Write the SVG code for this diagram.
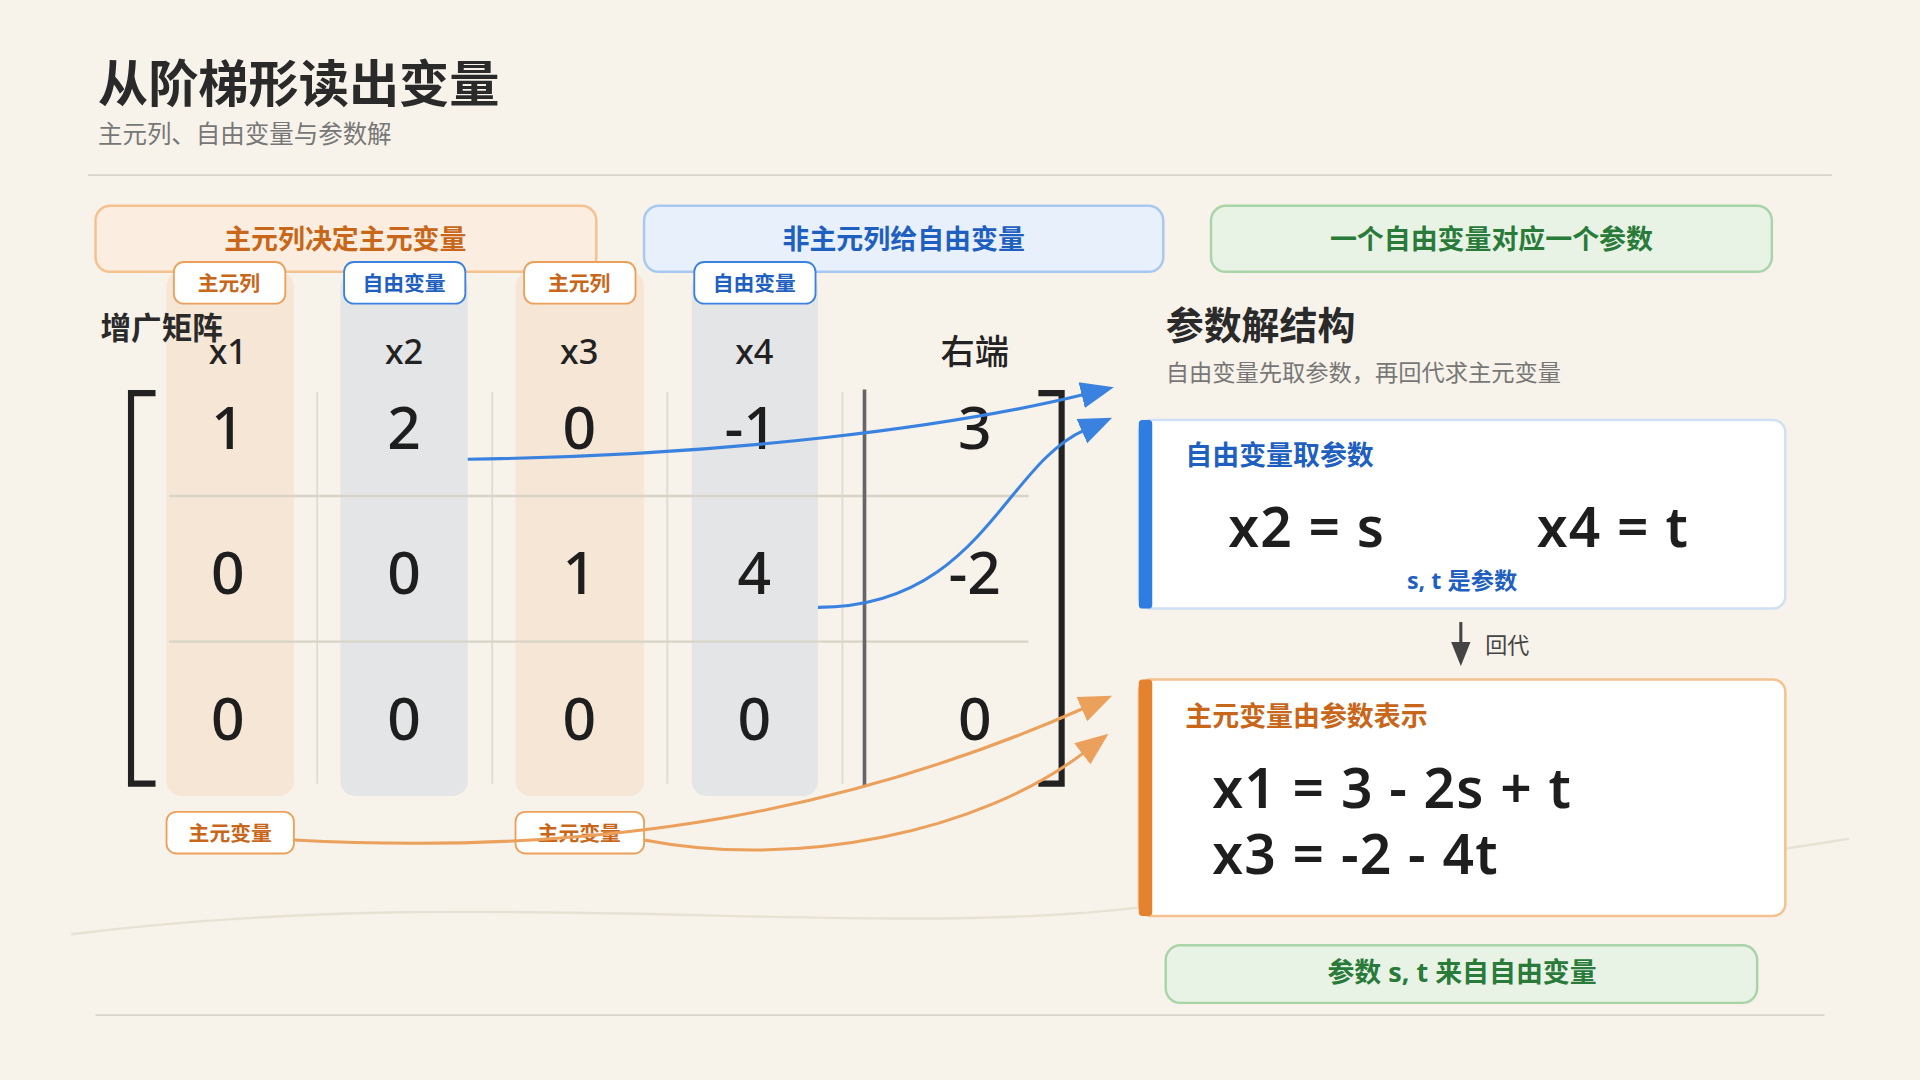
<svg xmlns="http://www.w3.org/2000/svg" width="1920" height="1080" viewBox="0 0 1920 1080">
<defs>
<style>
text{font-family:"Noto Sans","Noto Sans CJK SC",sans-serif}
.b{font-weight:700}
.hd{font-size:22px;font-weight:700;text-anchor:middle}
.tag{font-size:17px;font-weight:700;text-anchor:middle}
.ch{font-size:28px;text-anchor:middle;fill:#222;font-weight:500}
.n{font-size:48px;text-anchor:middle;fill:#1e1e1e;font-weight:500}
.eq{font-size:45px;fill:#1e1e1e;font-weight:600;letter-spacing:1px}
.col{stroke:#e0dcd2;stroke-width:1.5}
</style>
<marker id="ab" viewBox="0 0 10 10" refX="1" refY="5" markerWidth="27" markerHeight="27" markerUnits="userSpaceOnUse" orient="auto"><path d="M0,1 L10,5 L0,9z" fill="#3a82df"/></marker>
<marker id="ao" viewBox="0 0 10 10" refX="1" refY="5" markerWidth="27" markerHeight="27" markerUnits="userSpaceOnUse" orient="auto"><path d="M0,1 L10,5 L0,9z" fill="#eba05c"/></marker>
<marker id="ad" viewBox="0 0 10 10" refX="2" refY="5" markerWidth="20" markerHeight="20" markerUnits="userSpaceOnUse" orient="auto"><path d="M0,1 L10,5 L0,9z" fill="#444"/></marker>
</defs>
<rect width="1920" height="1080" fill="#f7f2ea"/>
<g transform="scale(1.2245)">
<path d="M58,763 C400,720 700,770 940,740 S1300,720 1510,685" fill="none" stroke="#e8e2d4" stroke-width="2"/>
<g id="title">
<text x="80" y="83" class="b" font-size="41" fill="#2a2a2a">从阶梯形读出变量</text>
<text x="80" y="117" font-size="20" fill="#777">主元列、自由变量与参数解</text>
<line x1="72" y1="143" x2="1496" y2="143" stroke="#d9d4ca" stroke-width="1.5"/>
</g>
<g id="headers">
<rect x="78" y="168" width="409" height="54" rx="12" fill="#fbeee0" stroke="#f5c18f" stroke-width="2"/>
<text x="282" y="203" class="hd" fill="#c8661a">主元列决定主元变量</text>
<rect x="526" y="168" width="424" height="54" rx="12" fill="#e8f0fb" stroke="#a9c8f0" stroke-width="2"/>
<text x="738" y="203" class="hd" fill="#1f5fbf">非主元列给自由变量</text>
<rect x="989" y="168" width="458" height="54" rx="12" fill="#e8f3e6" stroke="#a8d4a8" stroke-width="2"/>
<text x="1218" y="203" class="hd" fill="#2a7a3a">一个自由变量对应一个参数</text>
</g>
<g id="matrix">
<rect x="136" y="222" width="104" height="428" rx="12" fill="#f5e6d5"/>
<rect x="278" y="222" width="104" height="428" rx="12" fill="#e3e5e6"/>
<rect x="421" y="222" width="105" height="428" rx="12" fill="#f5e6d5"/>
<rect x="565" y="222" width="103" height="428" rx="12" fill="#e3e5e6"/>
<line x1="259" y1="320" x2="259" y2="640" class="col"/>
<line x1="402" y1="320" x2="402" y2="640" class="col"/>
<line x1="545" y1="320" x2="545" y2="640" class="col"/>
<line x1="688" y1="320" x2="688" y2="640" class="col"/>
<line x1="138" y1="405" x2="840" y2="405" stroke="#d8d4c8" stroke-width="2"/>
<line x1="138" y1="524" x2="840" y2="524" stroke="#d8d4c8" stroke-width="2"/>
<line x1="706" y1="318" x2="706" y2="642" stroke="#666" stroke-width="3"/>
<path d="M127,321 H107 V640 H127" fill="none" stroke="#222" stroke-width="5"/>
<path d="M848,321 H867 V640 H848" fill="none" stroke="#222" stroke-width="5"/>
<text x="82" y="277" class="b" font-size="25" fill="#2a2a2a">增广矩阵</text>
<text x="186" y="297" class="ch">x1</text><text x="330" y="297" class="ch">x2</text><text x="473" y="297" class="ch">x3</text><text x="616" y="297" class="ch">x4</text><text x="796" y="297" class="ch">右端</text>
<text x="186" y="367" class="n">1</text><text x="330" y="367" class="n">2</text><text x="473" y="367" class="n">0</text><text x="613" y="367" class="n">-1</text><text x="796" y="367" class="n">3</text>
<text x="186" y="485" class="n">0</text><text x="330" y="485" class="n">0</text><text x="473" y="485" class="n">1</text><text x="616" y="485" class="n">4</text><text x="796" y="485" class="n">-2</text>
<text x="186" y="604" class="n">0</text><text x="330" y="604" class="n">0</text><text x="473" y="604" class="n">0</text><text x="616" y="604" class="n">0</text><text x="796" y="604" class="n">0</text>
</g>
<g id="tags">
<rect x="142" y="214" width="91" height="34" rx="8" fill="#fff" stroke="#eba05c" stroke-width="1.5"/><text x="187" y="238" class="tag" fill="#c8661a">主元列</text>
<rect x="281" y="214" width="99" height="34" rx="8" fill="#fff" stroke="#3a82df" stroke-width="1.5"/><text x="330" y="238" class="tag" fill="#1f5fbf">自由变量</text>
<rect x="428" y="214" width="91" height="34" rx="8" fill="#fff" stroke="#eba05c" stroke-width="1.5"/><text x="473" y="238" class="tag" fill="#c8661a">主元列</text>
<rect x="567" y="214" width="99" height="34" rx="8" fill="#fff" stroke="#3a82df" stroke-width="1.5"/><text x="616" y="238" class="tag" fill="#1f5fbf">自由变量</text>
<rect x="136" y="663" width="104" height="34" rx="8" fill="#fff" stroke="#eba05c" stroke-width="1.5"/><text x="188" y="687" class="tag" fill="#c8661a">主元变量</text>
<rect x="421" y="663" width="105" height="34" rx="8" fill="#fff" stroke="#eba05c" stroke-width="1.5"/><text x="473" y="687" class="tag" fill="#c8661a">主元变量</text>
</g>
<g id="connectors" fill="none" stroke-width="2.5">
<path d="M382,375 C600,372 780,348 886,322" stroke="#3a82df" marker-end="url(#ab)"/>
<path d="M668,496 C800,496 820,380 886,351" stroke="#3a82df" marker-end="url(#ab)"/>
<path d="M240,686 C500,700 700,660 886,578" stroke="#eba05c" marker-end="url(#ao)"/>
<path d="M526,686 C650,710 800,680 886,614" stroke="#eba05c" marker-end="url(#ao)"/>
<line x1="1193" y1="508" x2="1193" y2="528" stroke="#444" stroke-width="2.5" marker-end="url(#ad)"/>
</g>
<g id="structure">
<text x="952" y="277" class="b" font-size="31" fill="#2a2a2a">参数解结构</text>
<text x="952" y="311" font-size="19" fill="#777">自由变量先取参数，再回代求主元变量</text>
<text x="1213" y="533" font-size="18" fill="#444">回代</text>
</g>
<g id="box-free">
<rect x="930" y="343" width="528" height="154" rx="10" fill="#fff" stroke="#cfe0f5" stroke-width="2"/>
<rect x="930" y="343" width="11" height="154" rx="3" fill="#2f7de1"/>
<text x="968" y="380" class="b" font-size="22" fill="#1f5fbf">自由变量取参数</text>
<text x="1003" y="447" class="eq">x2 = s</text>
<text x="1255" y="447" class="eq">x4 = t</text>
<text x="1194" y="481" class="b" font-size="19" fill="#1f5fbf" text-anchor="middle">s, t 是参数</text>
</g>
<g id="box-pivot">
<rect x="930" y="555" width="528" height="193" rx="10" fill="#fff" stroke="#f5c18f" stroke-width="2"/>
<rect x="930" y="555" width="11" height="193" rx="3" fill="#e5822f"/>
<text x="968" y="593" class="b" font-size="22" fill="#c8661a">主元变量由参数表示</text>
<text x="990" y="660" class="eq">x1 = 3 - 2s + t</text>
<text x="990" y="714" class="eq">x3 = -2 - 4t</text>
</g>
<g id="note">
<rect x="952" y="772" width="483" height="47" rx="12" fill="#e8f3e6" stroke="#a8d4a8" stroke-width="2"/>
<text x="1194" y="802" class="hd" fill="#2a7a3a">参数 s, t 来自自由变量</text>
</g>
<line x1="78" y1="829" x2="1490" y2="829" stroke="#d9d4ca" stroke-width="1.5"/>
</g>
</svg>
